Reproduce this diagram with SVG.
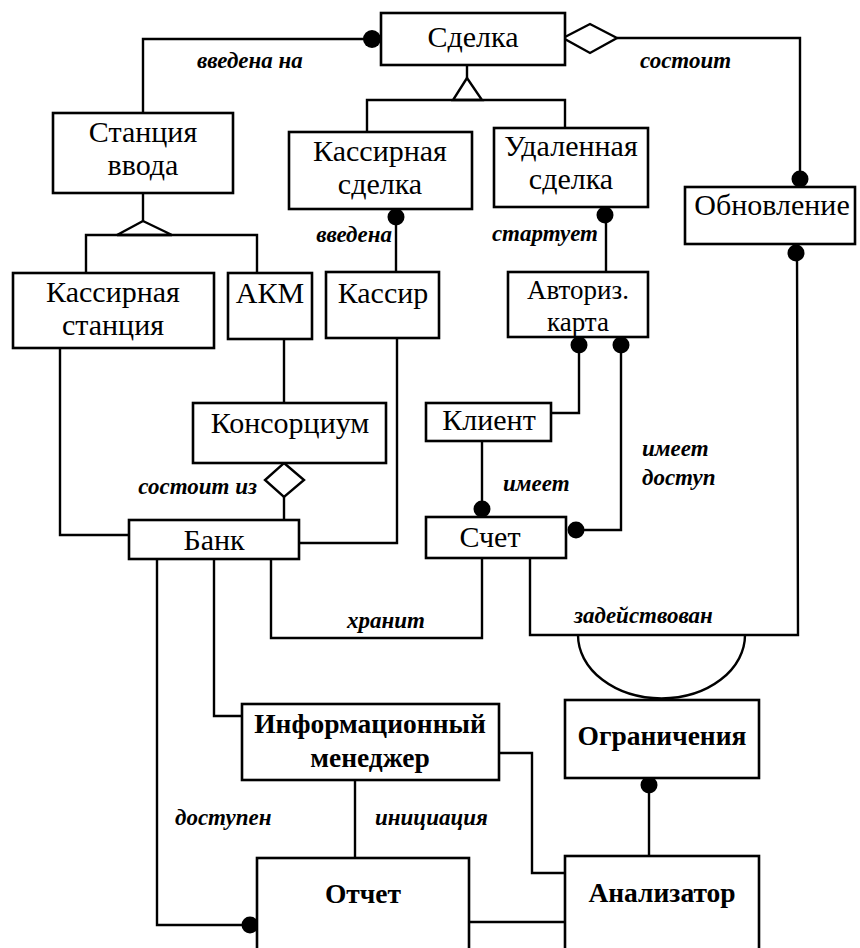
<svg xmlns="http://www.w3.org/2000/svg" width="860" height="948" viewBox="0 0 860 948">
<style>
.box{fill:#fff;stroke:#000;stroke-width:2.6}
.ln{fill:none;stroke:#000;stroke-width:2.4}
.dot{fill:#000}
.t{font-family:"Liberation Serif",serif;font-size:30px;text-anchor:middle;fill:#000}
.tb{font-family:"Liberation Serif",serif;font-size:27.5px;font-weight:bold;text-anchor:middle;fill:#000}
.lb{font-family:"Liberation Serif",serif;font-size:23px;font-style:italic;font-weight:bold;fill:#000}
</style>
<rect width="860" height="948" fill="#fff"/>
<g id="connectors">
  <polyline class="ln" points="371,39 143,39 143,113"/>
  <circle class="dot" cx="372" cy="39" r="9"/>
  <line class="ln" x1="467" y1="65" x2="467" y2="78"/>
  <polyline class="ln" points="367,132 367,100 565,100 565,128"/>
  <polygon class="ln" points="467,78 453,100 482,100"/>
  <polygon class="ln" points="563,38 590,24 617,38 590,53" fill="#fff"/>
  <polyline class="ln" points="617,38 800,38 800,180"/>
  <circle class="dot" cx="800" cy="179" r="8.5"/>
  <line class="ln" x1="143" y1="193" x2="143" y2="221"/>
  <polyline class="ln" points="86,273 86,235 257,235 257,273"/>
  <polygon class="ln" points="143,221 117,235 172,235"/>
  <line class="ln" x1="396" y1="209" x2="396" y2="272"/>
  <circle class="dot" cx="396" cy="217" r="8.5"/>
  <line class="ln" x1="606" y1="207" x2="606" y2="272"/>
  <circle class="dot" cx="605" cy="215" r="8.5"/>
  <polyline class="ln" points="60,348 60,535 129,535"/>
  <line class="ln" x1="284" y1="339" x2="284" y2="403"/>
  <polygon class="ln" points="284,463 304,480 284,497 265,480" fill="#fff"/>
  <line class="ln" x1="284" y1="497" x2="284" y2="520"/>
  <polyline class="ln" points="397,338 397,543 299,543"/>
  <polyline class="ln" points="579,340 579,413 551,413"/>
  <circle class="dot" cx="579" cy="345" r="8.5"/>
  <polyline class="ln" points="621,340 621,530 572,530"/>
  <circle class="dot" cx="621" cy="345" r="8.5"/>
  <circle class="dot" cx="576" cy="530" r="8.5"/>
  <line class="ln" x1="482" y1="441" x2="482" y2="510"/>
  <circle class="dot" cx="482" cy="509" r="8.5"/>
  <polyline class="ln" points="797,250 798,635 530,635 530,558"/>
  <circle class="dot" cx="796" cy="253" r="8.5"/>
  <path class="ln" d="M578,635 A83,63 0 0 0 745,635"/>
  <polyline class="ln" points="271,559 271,638 482,638 482,558"/>
  <polyline class="ln" points="214,559 214,716 242,716"/>
  <polyline class="ln" points="157,559 157,925 250,925"/>
  <circle class="dot" cx="250" cy="925" r="8.5"/>
  <line class="ln" x1="355" y1="780" x2="355" y2="858"/>
  <polyline class="ln" points="499,753 532,753 532,873 565,873"/>
  <line class="ln" x1="469" y1="922" x2="565" y2="922"/>
  <line class="ln" x1="649" y1="780" x2="649" y2="856"/>
  <circle class="dot" cx="649" cy="785" r="8.5"/>
</g>
<g id="labels">
  <text class="lb" x="197" y="68">введена на</text>
  <text class="lb" x="640" y="68">состоит</text>
  <text class="lb" x="392" y="242" text-anchor="end">введена</text>
  <text class="lb" x="598" y="241" text-anchor="end">стартует</text>
  <text class="lb" x="257" y="494" text-anchor="end">состоит из</text>
  <text class="lb" x="503" y="491">имеет</text>
  <text class="lb" x="642" y="456">имеет</text>
  <text class="lb" x="642" y="485">доступ</text>
  <text class="lb" x="347" y="628">хранит</text>
  <text class="lb" x="574" y="623">задействован</text>
  <text class="lb" x="175" y="825">доступен</text>
  <text class="lb" x="375" y="825">инициация</text>
</g>
<g id="n-sdelka"><rect class="box" x="381" y="13" width="184" height="52"/><text class="t" x="473" y="47">Сделка</text></g>
<g id="n-stancia-vvoda"><rect class="box" x="53" y="113" width="180" height="80"/><text class="t" x="143" y="142">Станция</text><text class="t" x="143" y="175">ввода</text></g>
<g id="n-kassirnaya-sdelka"><rect class="box" x="289" y="132" width="183" height="77"/><text class="t" x="380" y="161">Кассирная</text><text class="t" x="380" y="194">сделка</text></g>
<g id="n-udalennaya-sdelka"><rect class="box" x="494" y="128" width="154" height="79"/><text class="t" x="571" y="156">Удаленная</text><text class="t" x="571" y="189">сделка</text></g>
<g id="n-obnovlenie"><rect class="box" x="685" y="187" width="170" height="57"/><text class="t" x="772" y="215">Обновление</text></g>
<g id="n-kassirnaya-stancia"><rect class="box" x="13" y="273" width="201" height="75"/><text class="t" x="113" y="302">Кассирная</text><text class="t" x="113" y="335">станция</text></g>
<g id="n-akm"><rect class="box" x="228" y="273" width="84" height="66"/><text class="t" x="270" y="303">АКМ</text></g>
<g id="n-kassir"><rect class="box" x="326" y="272" width="113" height="66"/><text class="t" x="383" y="303">Кассир</text></g>
<g id="n-avtoriz-karta"><rect class="box" x="508" y="272" width="140" height="65"/><text class="t" x="578" y="299" style="font-size:27px">Авториз.</text><text class="t" x="578" y="331" style="font-size:27px">карта</text></g>
<g id="n-konsorcium"><rect class="box" x="193" y="403" width="193" height="60"/><text class="t" x="290" y="433">Консорциум</text></g>
<g id="n-klient"><rect class="box" x="426" y="403" width="125" height="38"/><text class="t" x="489" y="430">Клиент</text></g>
<g id="n-bank"><rect class="box" x="129" y="520" width="170" height="39"/><text class="t" x="214" y="550">Банк</text></g>
<g id="n-schet"><rect class="box" x="426" y="517" width="140" height="41"/><text class="t" x="490" y="547">Счет</text></g>
<g id="n-info-manager"><rect class="box" x="242" y="704" width="257" height="76"/><text class="tb" x="370" y="733">Информационный</text><text class="tb" x="370" y="767">менеджер</text></g>
<g id="n-ogranichenia"><rect class="box" x="565" y="700" width="194" height="78"/><text class="tb" x="662" y="745">Ограничения</text></g>
<g id="n-otchet"><rect class="box" x="257" y="858" width="212" height="100"/><text class="tb" x="363" y="903">Отчет</text></g>
<g id="n-analizator"><rect class="box" x="565" y="856" width="194" height="102"/><text class="tb" x="662" y="902">Анализатор</text></g>
</svg>
